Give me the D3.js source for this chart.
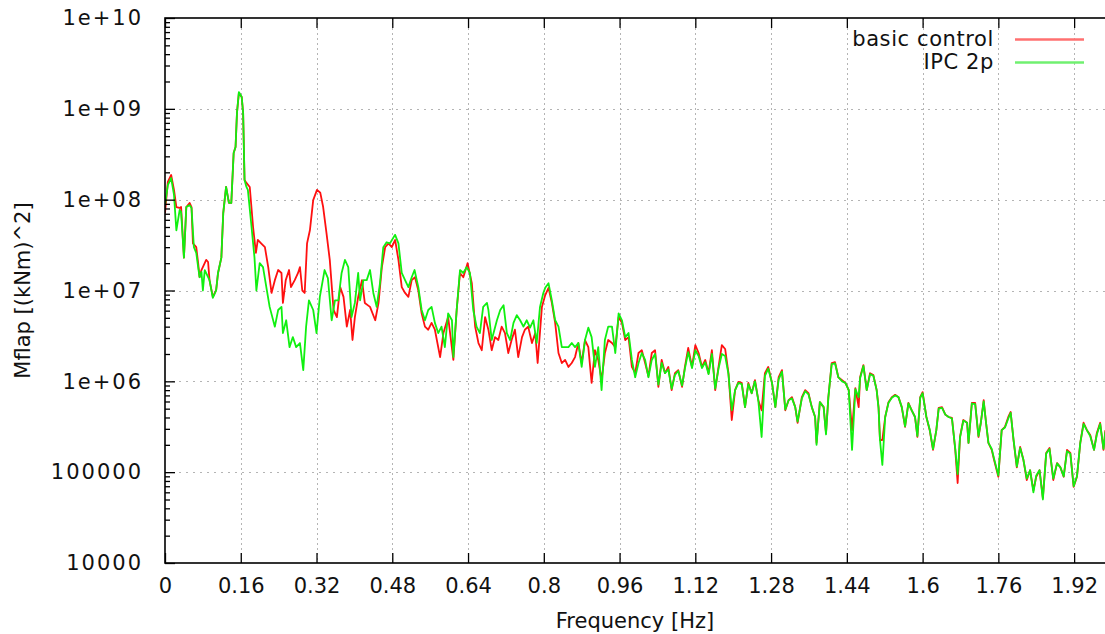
<!DOCTYPE html>
<html><head><meta charset="utf-8">
<script src="https://cdn.jsdelivr.net/npm/d3@7"></script>
<style>html,body{margin:0;padding:0;background:#fff;overflow:hidden}</style>
</head><body><svg id="c" width="1105" height="634"></svg>
<script>
// ---- data ----
const xTicks = [0,0.16,0.32,0.48,0.64,0.8,0.96,1.12,1.28,1.44,1.6,1.76,1.92];
const xTickLabels = ["0","0.16","0.32","0.48","0.64","0.8","0.96","1.12","1.28","1.44","1.6","1.76","1.92"];
const yTicks = [1e4,1e5,1e6,1e7,1e8,1e9,1e10];
const yTickLabels = ["10000","100000","1e+06","1e+07","1e+08","1e+09","1e+10"];
const seriesNames = ["basic control","IPC 2p"];

const tailFreq = [
1.035,1.042,1.049,1.056,1.063,1.070,1.077,1.084,1.092,1.098,
1.105,1.113,1.120,1.127,1.134,1.141,1.148,1.155,1.162,1.169,
1.176,1.183,1.190,1.197,1.204,1.211,1.218,1.225,1.232,1.239,
1.246,1.253,1.260,1.267,1.274,1.282,1.289,1.296,1.303,1.310,
1.317,1.324,1.331,1.336,1.345,1.352,1.359,1.366,1.373,1.376,
1.383,1.391,1.396,1.401,1.408,1.415,1.422,1.430,1.437,1.444,
1.451,1.458,1.465,1.468,1.475,1.482,1.489,1.496,1.503,1.507,
1.510,1.515,1.521,1.528,1.535,1.542,1.549,1.556,1.563,1.570,
1.577,1.584,1.589,1.595,1.600,1.608,1.615,1.622,1.629,1.634,
1.641,1.648,1.655,1.662,1.669,1.674,1.679,1.686,1.694,1.697,
1.704,1.711,1.718,1.723,1.729,1.734,1.739,1.746,1.751,1.760,
1.767,1.774,1.781,1.786,1.792,1.799,1.806,1.813,1.820,1.827,
1.834,1.840,1.847,1.854,1.861,1.868,1.876,1.884,1.891,1.898,
1.905,1.912,1.919,1.926,1.933,1.940,1.947,1.954,1.962,1.968,
1.975,1.982,1.986];

const basicHeadFreq = [
0.000,0.006,0.013,0.019,0.024,0.031,0.034,0.040,0.045,0.052,
0.056,0.059,0.066,0.070,0.073,0.077,0.087,0.091,0.094,0.101,
0.108,0.112,0.119,0.123,0.129,0.135,0.140,0.145,0.149,0.152,
0.156,0.162,0.165,0.168,0.172,0.179,0.186,0.192,0.196,0.203,
0.211,0.218,0.225,0.232,0.239,0.246,0.249,0.255,0.262,0.266,
0.274,0.281,0.285,0.290,0.295,0.300,0.306,0.313,0.321,0.328,
0.334,0.341,0.348,0.356,0.363,0.370,0.377,0.384,0.391,0.396,
0.401,0.408,0.416,0.422,0.433,0.444,0.451,0.458,0.465,0.472,
0.479,0.486,0.493,0.500,0.507,0.514,0.521,0.528,0.535,0.542,
0.549,0.556,0.563,0.570,0.581,0.588,0.598,0.609,0.616,0.623,
0.630,0.639,0.648,0.655,0.662,0.669,0.676,0.683,0.690,0.697,
0.704,0.711,0.718,0.725,0.732,0.739,0.746,0.754,0.760,0.767,
0.775,0.782,0.787,0.796,0.803,0.810,0.817,0.824,0.831,0.838,
0.845,0.852,0.859,0.866,0.873,0.880,0.887,0.894,0.901,0.908,
0.915,0.922,0.929,0.936,0.944,0.951,0.958,0.965,0.972,0.979,
0.986,0.993,1.000,1.007,1.014,1.021,1.028];

const basicHeadVal = [
7.1e7,1.57e8,1.87e8,1.28e8,8.3e7,8.1e7,8.3e7,2.3e7,8.3e7,9.2e7,
8.3e7,3.3e7,3.0e7,2.0e7,1.4e7,1.68e7,2.17e7,2.06e7,1.3e7,8.5e6,
1.01e7,1.56e7,2.3e7,7.1e7,1.38e8,9.2e7,9.2e7,3.27e8,3.8e8,9.0e8,
1.49e9,1.35e9,9.0e8,1.65e8,1.53e8,1.38e8,5.0e7,2.6e7,3.6e7,3.3e7,
3.0e7,1.81e7,9.4e6,1.3e7,1.68e7,1.56e7,7.3e6,1.3e7,1.68e7,1.09e7,
1.3e7,1.56e7,1.81e7,1.0e7,9.4e6,3.3e7,4.6e7,9.9e7,1.28e8,1.19e8,
8.3e7,4.3e7,2.17e7,6.1e6,5.1e6,1.09e7,8.5e6,4.0e6,6.1e6,2.85e6,
5.1e6,8.5e6,1.3e7,7.3e6,6.6e6,4.7e6,7.3e6,1.81e7,3.0e7,3.3e7,
3.0e7,3.6e7,2.17e7,1.09e7,9.4e6,8.5e6,1.3e7,1.4e7,1.0e7,5.6e6,
4.0e6,3.7e6,4.4e6,3.7e6,1.85e6,3.4e6,5.1e6,1.72e6,6.1e6,1.56e7,
1.4e7,2.0e7,1.2e7,4.0e6,2.64e6,2.2e6,5.1e6,3.7e6,2.2e6,3.07e6,
2.85e6,4.0e6,3.4e6,2.05e6,2.85e6,3.7e6,1.85e6,3.07e6,3.7e6,4.0e6,
2.64e6,3.4e6,1.59e6,6.6e6,8.9e6,1.07e7,7.3e6,4.4e6,2.05e6,1.59e6,
1.72e6,1.44e6,1.59e6,1.85e6,2.64e6,1.59e6,2.85e6,2.38e6,9.6e5,2.2e6,
1.72e6,1.03e6,2.05e6,2.85e6,2.64e6,2.38e6,5.1e6,4.4e6,2.85e6,3.07e6,
1.44e6,1.23e6,2.05e6,2.2e6,1.59e6,1.14e6,2.05e6];

const basicTailVal = [
2.2e6,8.7e5,1.72e6,1.23e6,1.44e6,8.0e5,1.23e6,1.33e6,8.7e5,1.44e6,
2.33e6,1.44e6,2.5e6,2.05e6,1.44e6,1.72e6,1.23e6,2.2e6,8.0e5,1.44e6,
2.5e6,2.27e6,1.23e6,3.75e5,8.0e5,9.85e5,9.6e5,5.2e5,9.6e5,7.4e5,
1.03e6,6.2e5,4.8e5,1.23e6,1.44e6,9.6e5,5.2e5,1.11e6,1.33e6,4.8e5,
6.2e5,6.7e5,5.2e5,3.5e5,6.7e5,8.0e5,7.4e5,5.2e5,4.05e5,2.1e5,
5.9e5,5.2e5,2.7e5,6.7e5,1.59e6,1.63e6,1.11e6,1.03e6,9.6e5,8.0e5,
2.9e5,8.4e5,5.2e5,1.11e6,1.51e6,8.0e5,1.23e6,1.17e6,8.0e5,5.2e5,
2.26e5,2.26e5,4.05e5,5.9e5,6.7e5,7.1e5,6.7e5,5.2e5,3.15e5,5.8e5,
4.8e5,4.05e5,2.44e5,6.7e5,7.6e5,4.05e5,2.9e5,1.76e5,2.9e5,5.1e5,
5.2e5,4.3e5,4.05e5,3.95e5,1.76e5,7.6e4,2.44e5,3.75e5,3.5e5,2.1e5,
5.8e5,5.8e5,2.44e5,3.5e5,6.2e5,3.5e5,2.1e5,1.76e5,1.36e5,8.9e4,
2.9e5,3.15e5,4.05e5,4.6e5,2.26e5,1.13e5,1.9e5,1.36e5,8.2e4,1.05e5,
6.3e4,8.9e4,1.05e5,5.2e4,1.63e5,1.85e5,8.2e4,1.26e5,1.13e5,8.9e4,
1.76e5,1.63e5,6.9e4,8.9e4,2.1e5,3.5e5,2.9e5,2.56e5,1.76e5,2.7e5,
3.5e5,1.76e5,2.9e5];

const ipcHeadFreq = [
0.000,0.006,0.013,0.019,0.024,0.031,0.034,0.040,0.045,0.052,
0.056,0.061,0.066,0.070,0.073,0.077,0.080,0.084,0.091,0.094,
0.101,0.108,0.112,0.119,0.123,0.129,0.135,0.140,0.145,0.149,
0.152,0.156,0.162,0.165,0.168,0.172,0.175,0.182,0.189,0.193,
0.200,0.207,0.214,0.221,0.232,0.239,0.246,0.249,0.256,0.263,
0.270,0.277,0.285,0.292,0.298,0.304,0.313,0.320,0.327,0.337,
0.344,0.352,0.359,0.366,0.373,0.380,0.387,0.394,0.401,0.408,
0.412,0.419,0.426,0.433,0.440,0.447,0.454,0.461,0.468,0.475,
0.486,0.493,0.500,0.507,0.514,0.521,0.527,0.535,0.542,0.549,
0.556,0.563,0.570,0.577,0.584,0.591,0.598,0.606,0.609,0.616,
0.623,0.630,0.637,0.644,0.651,0.658,0.665,0.672,0.680,0.683,
0.690,0.701,0.708,0.715,0.722,0.729,0.736,0.743,0.750,0.757,
0.764,0.771,0.778,0.785,0.792,0.799,0.803,0.810,0.817,0.824,
0.831,0.838,0.845,0.852,0.859,0.866,0.873,0.880,0.887,0.894,
0.901,0.908,0.915,0.922,0.929,0.936,0.944,0.951,0.958,0.965,
0.972,0.979,0.986,0.993,1.000,1.007,1.014,1.021,1.028];

const ipcHeadVal = [
8.7e7,1.45e8,1.73e8,1.13e8,4.6e7,7.7e7,7.3e7,2.3e7,8.3e7,8.7e7,
8.1e7,3.0e7,2.6e7,1.81e7,1.4e7,1.6e7,1.0e7,1.68e7,1.4e7,1.3e7,
8.3e6,1.0e7,1.56e7,2.3e7,7.1e7,1.38e8,9.2e7,9.2e7,3.27e8,3.8e8,
9.0e8,1.53e9,1.35e9,9.0e8,1.65e8,1.38e8,1.28e8,5.5e7,2.3e7,1.0e7,
2.0e7,1.81e7,1.09e7,6.6e6,4.0e6,6.1e6,6.6e6,3.4e6,4.7e6,2.38e6,
3.07e6,2.38e6,2.64e6,1.33e6,4.0e6,7.8e6,6.1e6,3.4e6,8.5e6,1.68e7,
1.37e7,4.7e6,7.8e6,7.8e6,1.56e7,2.17e7,1.81e7,5.1e6,7.3e6,1.56e7,
7.8e6,1.3e7,1.3e7,1.68e7,9.4e6,6.6e6,1.2e7,3.0e7,3.4e7,3.3e7,
4.1e7,3.3e7,1.56e7,1.3e7,1.09e7,1.4e7,1.68e7,1.09e7,6.1e6,4.7e6,
6.1e6,6.6e6,4.4e6,3.4e6,4.0e6,2.38e6,5.6e6,4.7e6,1.85e6,6.1e6,
1.68e7,1.56e7,1.81e7,1.56e7,6.1e6,4.0e6,3.4e6,6.6e6,7.3e6,6.1e6,
2.85e6,4.7e6,6.1e6,6.9e6,3.4e6,2.85e6,4.4e6,5.35e6,4.7e6,4.0e6,
4.7e6,3.9e6,4.7e6,2.64e6,6.6e6,9.4e6,1.07e7,1.2e7,7.8e6,4.7e6,
4.0e6,2.38e6,2.38e6,2.38e6,2.64e6,2.38e6,2.64e6,1.44e6,2.85e6,3.9e6,
3.07e6,1.44e6,2.38e6,8.0e5,2.85e6,4.0e6,4.0e6,2.05e6,5.6e6,4.7e6,
3.07e6,3.4e6,1.72e6,1.11e6,1.59e6,2.05e6,1.72e6,1.11e6,1.72e6];

const ipcTailVal = [
2.0e6,9.2e5,1.6e6,1.23e6,1.35e6,8.3e5,1.18e6,1.3e6,9.0e5,1.38e6,
2.1e6,1.4e6,2.2e6,1.9e6,1.4e6,1.62e6,1.2e6,2.0e6,8.3e5,1.38e6,
2.0e6,1.9e6,1.2e6,4.8e5,8.0e5,9.6e5,9.3e5,5.2e5,9.3e5,7.4e5,
1.0e6,6.2e5,2.44e5,1.15e6,1.38e6,9.6e5,5.2e5,1.05e6,1.28e6,4.9e5,
6.2e5,6.5e5,5.2e5,3.6e5,6.5e5,7.8e5,7.2e5,5.2e5,4.05e5,2.0e5,
5.9e5,5.2e5,2.6e5,6.7e5,1.55e6,1.58e6,1.11e6,1.0e6,9.6e5,8.0e5,
1.76e5,8.2e5,6.7e5,1.08e6,1.48e6,8.0e5,1.2e6,1.15e6,8.0e5,5.0e5,
2.26e5,1.2e5,4.05e5,5.8e5,6.6e5,7.0e5,6.7e5,5.2e5,3.2e5,5.7e5,
4.8e5,4.05e5,2.5e5,6.6e5,7.4e5,4.05e5,2.95e5,1.8e5,2.9e5,5.0e5,
5.1e5,4.3e5,4.05e5,3.9e5,1.8e5,9.5e4,2.4e5,3.7e5,3.5e5,2.1e5,
5.7e5,5.6e5,2.5e5,3.5e5,6.0e5,3.5e5,2.1e5,1.8e5,1.4e5,9.2e4,
2.9e5,3.1e5,3.9e5,4.5e5,2.3e5,1.15e5,1.85e5,1.36e5,8.5e4,1.05e5,
6.0e4,9.2e4,1.05e5,5.0e4,1.6e5,1.8e5,8.5e4,1.25e5,1.13e5,9.0e4,
1.7e5,1.6e5,7.0e4,9.0e4,2.1e5,3.4e5,2.9e5,2.5e5,1.76e5,2.6e5,
3.4e5,1.8e5,2.8e5];

// ---- build ----
const basic = d3.zip(basicHeadFreq.concat(tailFreq), basicHeadVal.concat(basicTailVal));
const ipc = d3.zip(ipcHeadFreq.concat(tailFreq), ipcHeadVal.concat(ipcTailVal));

const W = 1105, H = 634;
const L = 165, T = 18, B = 563, R = 1112;
const FONT = "'DejaVu Sans', sans-serif";
const x = d3.scaleLinear().domain([0, 2]).range([L, R]);
const y = d3.scaleLog().domain([1e4, 1e10]).range([B, T]);

const svg = d3.select('#c');
svg.append('rect').attr('width', W).attr('height', H).attr('fill', '#fff');

svg.append('defs').append('clipPath').attr('id', 'clip')
  .append('rect').attr('x', L).attr('y', T).attr('width', R - L).attr('height', B - T);

// grid
const grid = svg.append('g');
grid.selectAll('line.gx').data(xTicks.filter(v => v > 0)).join('line')
  .attr('x1', d => Math.round(x(d)) + 0.5).attr('x2', d => Math.round(x(d)) + 0.5)
  .attr('y1', T).attr('y2', B)
  .attr('stroke', '#b4b4b4').attr('stroke-width', 1).attr('stroke-dasharray', '2,3');
grid.selectAll('line.gy').data(yTicks.filter(v => v > 1e4 && v < 1e10)).join('line')
  .attr('y1', d => Math.round(y(d)) + 0.5).attr('y2', d => Math.round(y(d)) + 0.5)
  .attr('x1', L).attr('x2', R)
  .attr('stroke', '#b4b4b4').attr('stroke-width', 1).attr('stroke-dasharray', '2,5');

// data lines
const line = d3.line().x(d => x(d[0])).y(d => y(d[1]));
const plot = svg.append('g').attr('clip-path', 'url(#clip)');
plot.append('path').datum(basic).attr('d', line)
  .attr('fill', 'none').attr('stroke', '#ff1010').attr('stroke-width', 1.8).attr('stroke-linejoin', 'round');
plot.append('path').datum(ipc).attr('d', line)
  .attr('fill', 'none').attr('stroke', '#10f010').attr('stroke-width', 1.8).attr('stroke-linejoin', 'round');

// axes
function styleAxis(g) {
  g.select('.domain').remove();
  g.selectAll('.tick line').attr('stroke', '#000').attr('stroke-width', 1.3);
  g.selectAll('text').attr('font-family', FONT).attr('font-size', 21).attr('fill', '#111');
}
svg.append('g').attr('transform', `translate(0,${B})`)
  .call(d3.axisBottom(x).tickValues(xTicks).tickFormat((d, i) => xTickLabels[i]).tickSizeInner(-10).tickSizeOuter(0).tickPadding(15))
  .call(styleAxis);
svg.append('g').attr('transform', `translate(0,${T})`)
  .call(d3.axisTop(x).tickValues(xTicks).tickFormat('').tickSizeInner(-10).tickSizeOuter(0))
  .call(styleAxis);
svg.append('g').attr('transform', `translate(${L},0)`)
  .call(d3.axisLeft(y).tickValues(yTicks).tickFormat((d, i) => yTickLabels[i]).tickSizeInner(-10).tickSizeOuter(0).tickPadding(22))
  .call(styleAxis)
  .call(g => g.selectAll('text').attr('letter-spacing', 2));
const minor = [];
for (let e = 4; e < 10; e++) for (let m = 2; m <= 9; m++) minor.push(m * Math.pow(10, e));
svg.append('g').attr('transform', `translate(${L},0)`)
  .call(d3.axisLeft(y).tickValues(minor).tickFormat('').tickSizeInner(-5).tickSizeOuter(0))
  .call(styleAxis);

// frame
svg.append('rect').attr('x', L).attr('y', T).attr('width', R - L).attr('height', B - T)
  .attr('fill', 'none').attr('stroke', '#000').attr('stroke-width', 1.6);

// axis titles
svg.append('text').attr('x', (L + W) / 2).attr('y', 628).attr('text-anchor', 'middle')
  .attr('font-family', FONT).attr('font-size', 21).attr('fill', '#111').text('Frequency [Hz]');
svg.append('text').attr('transform', `translate(29.5,${(T + B) / 2}) rotate(-90)`).attr('text-anchor', 'middle')
  .attr('font-family', FONT).attr('font-size', 21).attr('fill', '#111').text('Mflap [(kNm)^2]');

// legend
const legColors = ['#ff7070', '#70f070'];
const legY = [46, 69], legLineY = [39.5, 62.5];
seriesNames.forEach((n, i) => {
  svg.append('text').attr('x', 994).attr('y', legY[i]).attr('text-anchor', 'end')
    .attr('font-family', FONT).attr('font-size', 21).attr('letter-spacing', 0.6).attr('fill', '#111').text(n);
  svg.append('line').attr('x1', 1015).attr('x2', 1084).attr('y1', legLineY[i]).attr('y2', legLineY[i])
    .attr('stroke', legColors[i]).attr('stroke-width', 2.5);
});
</script></body></html>
